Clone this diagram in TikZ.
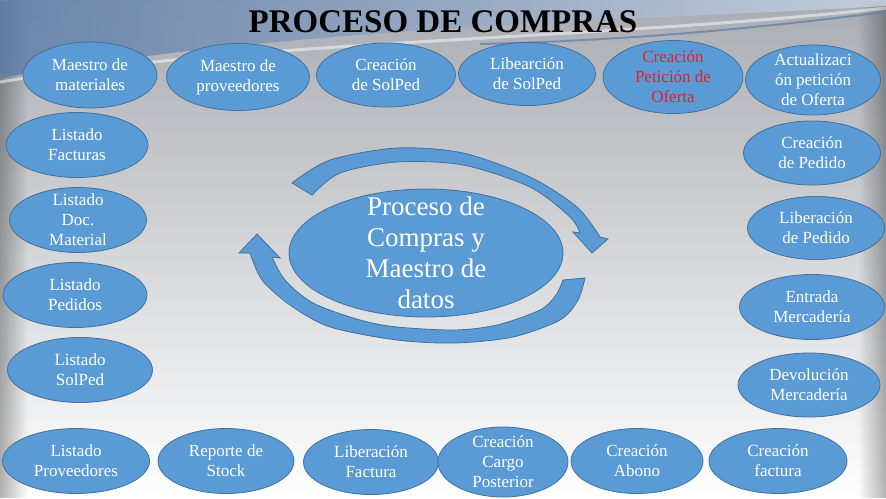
\documentclass[tikz,border=0pt]{standalone}
\usepackage{fontspec}
\setmainfont{Liberation Serif}
\usetikzlibrary{shapes.geometric,fadings}
\definecolor{azul}{HTML}{5B9BD5}
\definecolor{borde}{HTML}{41719C}
\definecolor{rojo}{HTML}{E0202A}
\definecolor{fondo}{HTML}{A9ACB2}
\definecolor{franja}{HTML}{5F7DA8}

\begin{document}
\begin{tikzpicture}[x=1pt,y=-1pt,
		caja/.style={ellipse, draw=borde, fill=azul, line width=0.8pt, text=white, align=center, inner sep=-8pt, minimum width=138pt, minimum height=65pt, font=\fontsize{17}{20}\selectfont},
		flecha/.style={draw=borde, fill=azul, line width=0.8pt},
		titulo/.style={font=\fontsize{33}{36}\selectfont\bfseries}]
		\useasboundingbox (0,0) rectangle (886,498);
		
		\shade[top color=fondo, middle color=gray!22, bottom color=white] (0,0) rectangle (886,498);
		\fill[black, path fading=east, opacity=0.3] (0,0) rectangle (28,498);
		\fill[black, path fading=west, opacity=0.3] (858,0) rectangle (886,498);
		\shade[left color=franja, right color=franja!35!white, opacity=0.85] (0,0) -- (886,0) -- (886,6) .. controls (650,20) and (300,25) .. (0,78) -- cycle;
		\draw[white, line width=3pt, opacity=0.5] (0,82) .. controls (250,40) and (600,40) .. (886,8);
		\draw[franja, line width=2pt, opacity=0.7] (480,44) .. controls (650,40) and (780,25) .. (886,12);
		
		\node[titulo, text=black] at (443,22) (titulo) {PROCESO DE COMPRAS};
		
		\draw[flecha] plot[smooth] coordinates {(292,183) (330,160) (397,148) (463,153) (530,177) (577,207) (600,237)} -- (608,239) -- (592,253) -- (573,232) -- plot[smooth] coordinates {(580,233) (570,217) (530,187) (463,165) (397,162) (340,173) (312,195)} -- cycle;
		\draw[flecha] plot[smooth] coordinates {(585,278) (578,300) (560,320) (513,337) (455,343) (397,340) (330,327) (290,305) (262,280) (250,253)} -- (239,253) -- (257,234) -- (280,258) -- plot[smooth] coordinates {(272,257) (285,280) (313,303) (360,320) (397,327) (455,330) (497,325) (540,310) (556,295) (563,280)} -- cycle;
		\node[caja, inner sep=-30pt, minimum width=274pt, minimum height=128pt, font=\fontsize{27}{31}\selectfont] at (426,253) (centro) {Proceso de\\Compras y\\Maestro de\\datos};
		
		\node[caja, minimum width=134pt, minimum height=66pt] at (90,75) (mmat) {Maestro de\\materiales};
		\node[caja, minimum width=143pt, minimum height=67pt] at (238,77) (mprov) {Maestro de\\proveedores};
		\node[caja, minimum width=139pt, minimum height=64pt] at (386,75) (csol) {Creación\\de SolPed};
		\node[caja, minimum width=137pt, minimum height=63pt] at (527,74) (libsol) {Libearción\\de SolPed};
		\node[caja, minimum width=140pt, minimum height=73pt, text=rojo] at (673,77) (cpet) {Creación\\Petición de\\Oferta};
		\node[caja, minimum width=135pt, minimum height=70pt] at (813,80) (apet) {Actualizaci\\ón petición\\de Oferta};
		
		\node[caja, minimum width=142pt] at (77,145) (lfac) {Listado\\Facturas};
		\node[caja, minimum width=137pt] at (78,220) (ldoc) {Listado\\Doc.\\Material};
		\node[caja, minimum width=144pt] at (75,295) (lped) {Listado\\Pedidos};
		\node[caja, minimum width=145pt] at (80,370) (lissol) {Listado\\SolPed};
		
		\node[caja, minimum width=137pt, minimum height=64pt] at (812,153) (cped) {Creación\\de Pedido};
		\node[caja, minimum width=137pt, minimum height=63pt] at (816,228) (libped) {Liberación\\de Pedido};
		\node[caja, minimum width=145pt] at (812,307) (emer) {Entrada\\Mercadería};
		\node[caja, minimum width=142pt, minimum height=64pt] at (809,385) (dmer) {Devolución\\Mercadería};
		
		\node[caja, minimum width=147pt] at (76,461) (lprov) {Listado\\Proveedores};
		\node[caja, minimum width=136pt] at (226,461) (rstock) {Reporte de\\Stock};
		\node[caja, minimum width=135pt] at (371,462) (libfac) {Liberación\\Factura};
		\node[caja, minimum width=130pt, minimum height=70pt] at (503,462) (ccargo) {Creación\\Cargo\\Posterior};
		\node[caja, minimum width=132pt] at (637,461) (cabono) {Creación\\Abono};
		\node[caja, minimum width=138pt] at (778,461) (cfac) {Creación\\factura};
	\end{tikzpicture}
\end{document}
